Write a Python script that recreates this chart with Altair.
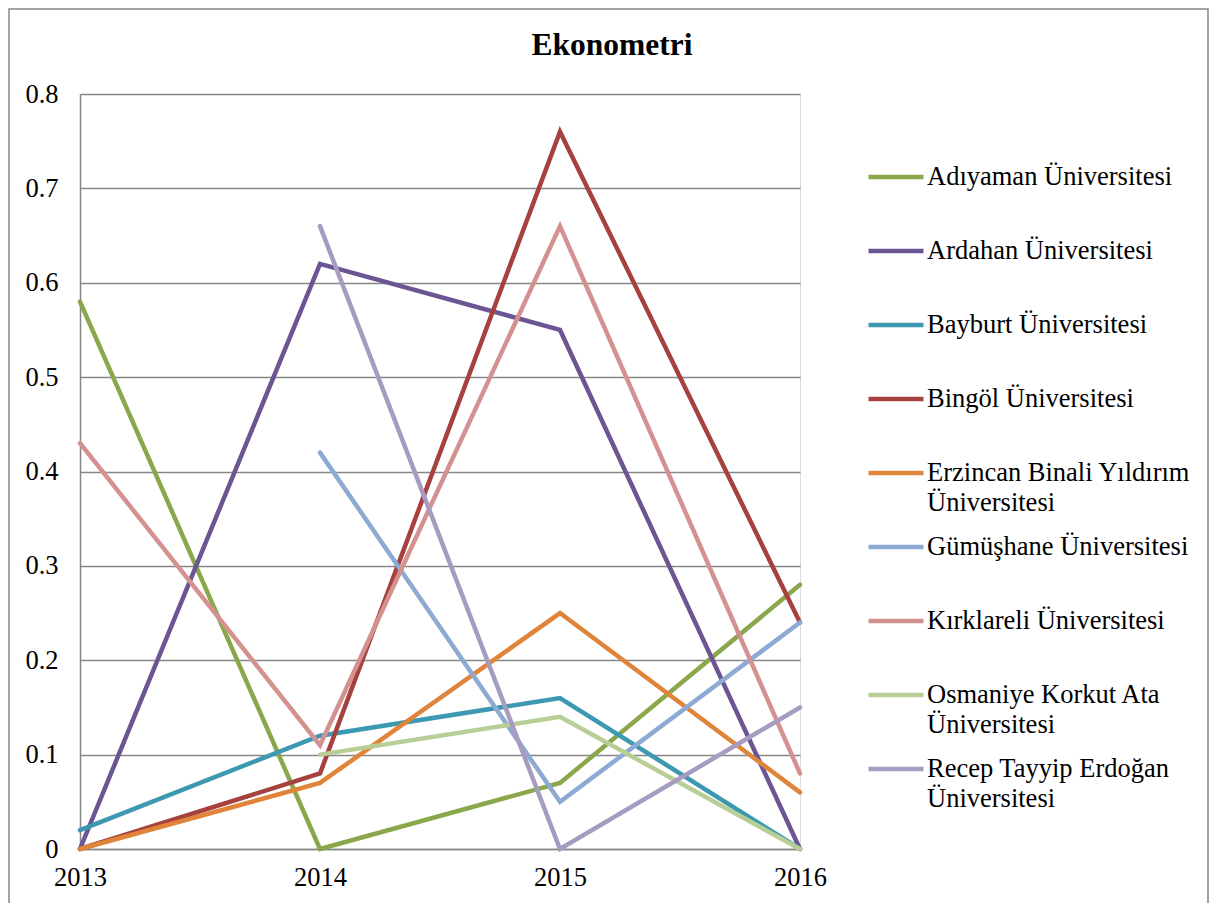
import altair as alt
import pandas as pd

years = [2013, 2014, 2015, 2016]
universities = [
    "Adıyaman Üniversitesi",
    "Ardahan Üniversitesi",
    "Bayburt Üniversitesi",
    "Bingöl Üniversitesi",
    "Erzincan Binali Yıldırım Üniversitesi",
    "Gümüşhane Üniversitesi",
    "Kırklareli Üniversitesi",
    "Osmaniye Korkut Ata Üniversitesi",
    "Recep Tayyip Erdoğan Üniversitesi",
]
# legend text as printed (line 1, line 2)
legend_lines = [
    ["Adıyaman Üniversitesi", ""],
    ["Ardahan Üniversitesi", ""],
    ["Bayburt Üniversitesi", ""],
    ["Bingöl Üniversitesi", ""],
    ["Erzincan Binali Yıldırım", "Üniversitesi"],
    ["Gümüşhane Üniversitesi", ""],
    ["Kırklareli Üniversitesi", ""],
    ["Osmaniye Korkut Ata", "Üniversitesi"],
    ["Recep Tayyip Erdoğan", "Üniversitesi"],
]
adiyaman = [0.58, 0.0, 0.07, 0.28]
ardahan = [0.0, 0.62, 0.55, 0.0]
bayburt = [0.02, 0.12, 0.16, 0.0]
bingol = [0.0, 0.08, 0.76, 0.24]
erzincan = [0.0, 0.07, 0.25, 0.06]
gumushane = [None, 0.42, 0.05, 0.24]
kirklareli = [0.43, 0.11, 0.66, 0.08]
osmaniye = [None, 0.10, 0.14, 0.0]
recep = [None, 0.66, 0.0, 0.15]
series = [adiyaman, ardahan, bayburt, bingol, erzincan, gumushane, kirklareli, osmaniye, recep]

colors = ["#8AA84B", "#6B5592", "#3D98B1", "#A6413E", "#E0843A",
          "#8DAAD3", "#D39290", "#B7CF97", "#A69BC0"]

rows = []
for name, vals in zip(universities, series):
    for y, v in zip(years, vals):
        if v is not None:
            rows.append({"Yıl": y, "Üniversite": name, "Değer": v})
df = pd.DataFrame(rows)

FONT = "Times New Roman, Liberation Serif, DejaVu Serif, serif"
GRID = "#868686"
FS = 26.5

expr = "datum.label"
for name, parts in reversed(list(zip(universities, legend_lines))):
    expr = f"datum.label == '{name}' ? ['{parts[0]}', '{parts[1]}'] : ({expr})"
label_expr = expr

lines = alt.Chart(df).mark_line(strokeWidth=4.5, strokeCap="round").encode(
    x=alt.X("Yıl:Q", scale=alt.Scale(domain=[2013, 2016], nice=False, zero=False),
            axis=alt.Axis(values=years, format="d", title=None, grid=False, ticks=False,
                          labelFont=FONT, labelFontSize=FS, labelColor="black",
                          labelPadding=15, domainColor=GRID, domainWidth=1.5,
                          labelFlush=False)),
    y=alt.Y("Değer:Q", scale=alt.Scale(domain=[0, 0.8], nice=False),
            axis=alt.Axis(values=[0, 0.1, 0.2, 0.3, 0.4, 0.5, 0.6, 0.7, 0.8], format=".1~f",
                          title=None, ticks=False, labelFont=FONT, labelFontSize=FS,
                          labelColor="black", labelPadding=22, gridColor=GRID, gridWidth=1.5,
                          domainColor=GRID, domainWidth=1.5)),
    color=alt.Color("Üniversite:N", scale=alt.Scale(domain=universities, range=colors),
                    sort=universities,
                    legend=alt.Legend(title=None, orient="none", legendX=786, legendY=53,
                                      symbolType="stroke", symbolSize=3025, symbolStrokeWidth=4.5,
                                      labelFont=FONT, labelFontSize=FS, labelColor="black",
                                      labelOffset=1, labelLimit=400, rowPadding=0,
                                      labelExpr=label_expr, padding=0)),
)

border = alt.Chart(alt.Data(values=[{}])).mark_rect(fill=None, stroke="#878787", strokeWidth=1.5).encode(
    x=alt.value(-71), x2=alt.value(1128), y=alt.value(-85), y2=alt.value(830)
)

chart = alt.layer(border, lines).properties(
    width=720, height=755,
    padding={"left": 72, "top": 86, "right": 409, "bottom": 54},
    autosize=alt.AutoSizeParams(type="none"),
    title=alt.TitleParams("Ekonometri", font=FONT, fontSize=31.5, fontWeight="bold",
                          color="black", anchor="middle", frame="group", dx=172, offset=-53),
).configure_view(strokeWidth=0).configure(
    background="white", style={"guide-label": {"lineHeight": 30}}
)

chart.save("out.html", embed_options={"renderer": "svg", "actions": False})
